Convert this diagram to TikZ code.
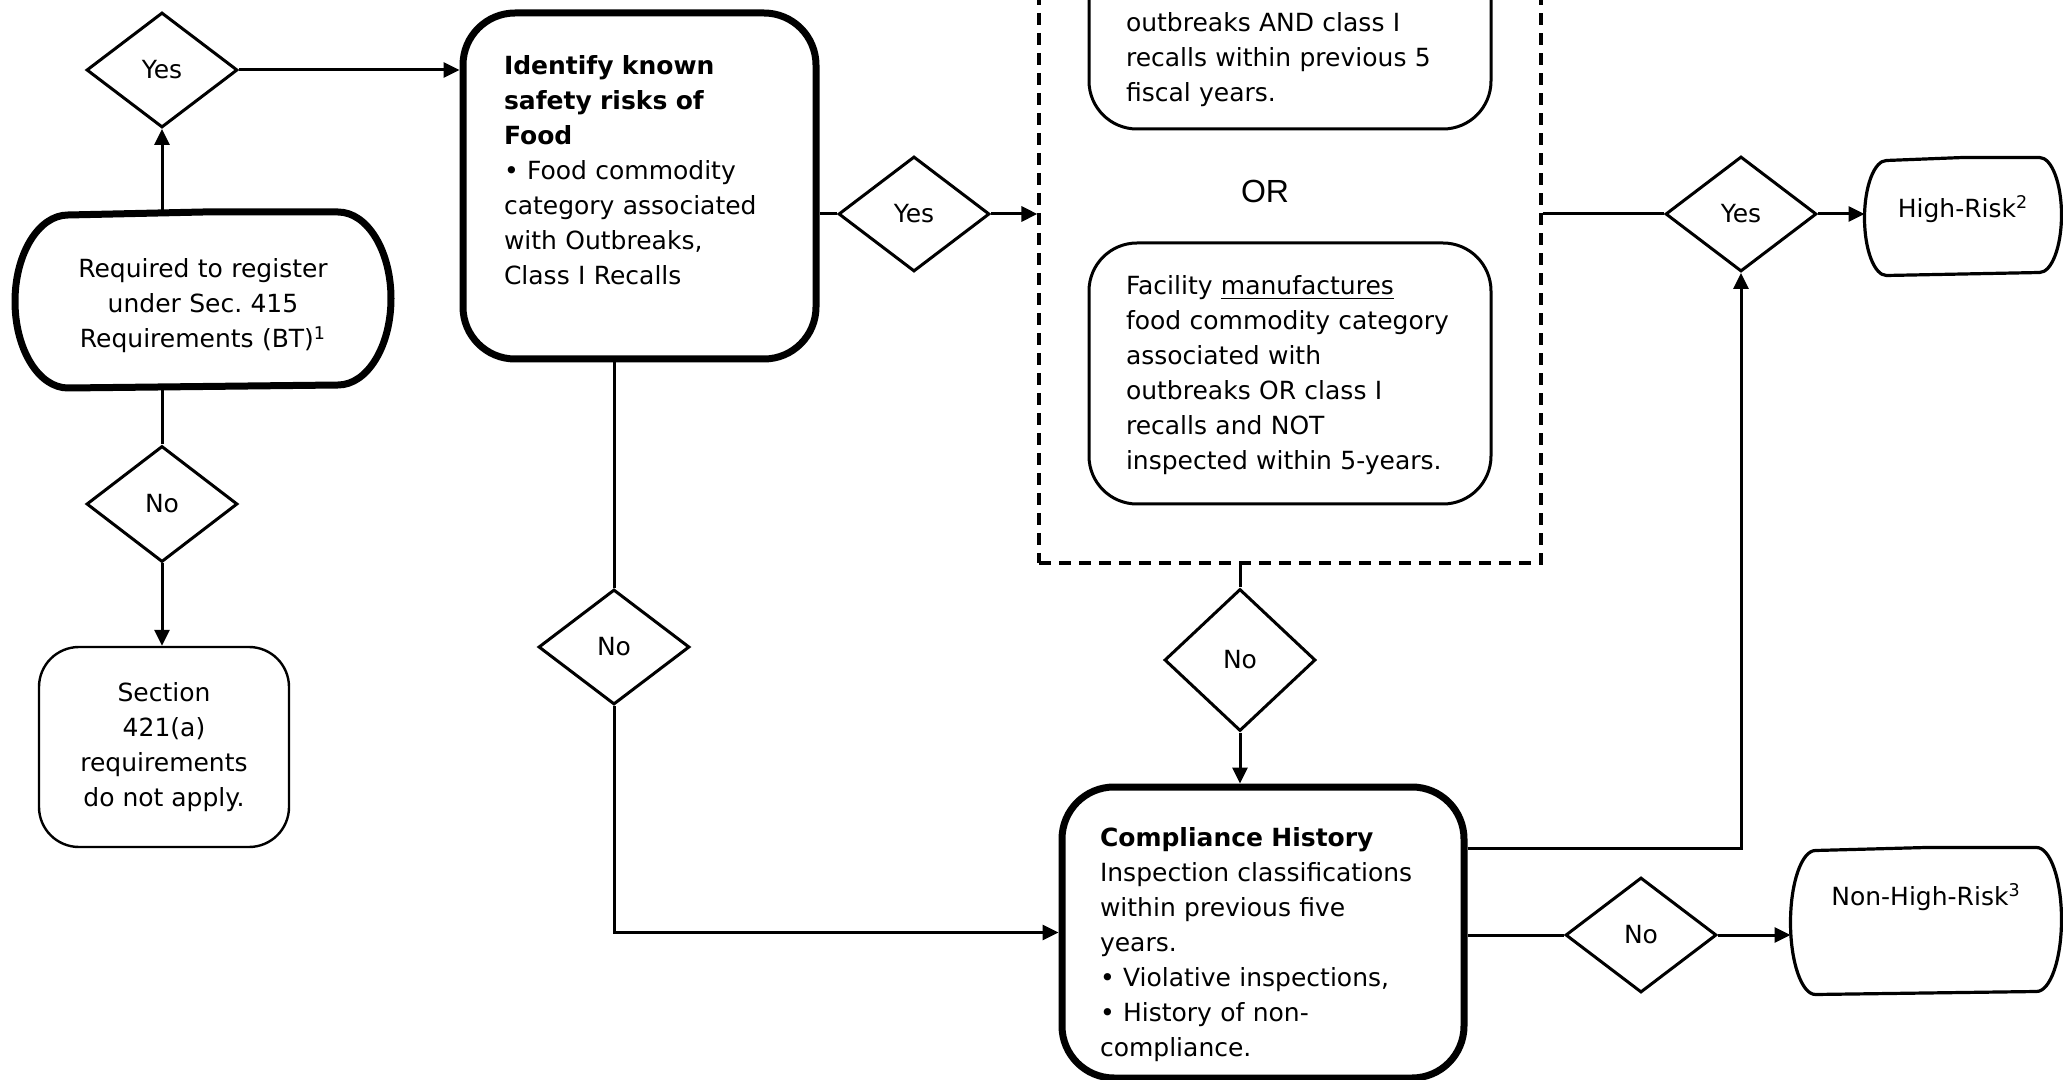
\documentclass[tikz,border=0pt]{standalone}
\usepackage{fontspec}
\setmainfont{DejaVu Sans}
\newfontfamily\orfont{Liberation Sans}
\usepackage{tikz}
\usetikzlibrary{arrows.meta,positioning,shapes.geometric}

\begin{document}
\begin{tikzpicture}
  [x=0.5pt,y=-0.5pt,
   font=\fontsize{12.5}{17.5}\selectfont,
   >={Triangle[length=8pt,width=7.5pt]},
   line width=1.5pt,
   decision/.style={diamond,draw,line width=1.5pt,inner sep=0pt,minimum width=75.5pt,minimum height=57.5pt},
   process/.style={rectangle,draw,line width=3.5pt,rounded corners=26pt,align=left,inner ysep=0pt},
   criterion/.style={rectangle,draw,line width=1.5pt,rounded corners=24pt,align=left,inner xsep=18.5pt,inner ysep=0pt,text width=164pt},
   terminal/.style={rectangle,inner ysep=0pt},
   outline/.style={line width=1.6pt,line join=round},
   group/.style={rectangle,draw,line width=1.6pt,dash pattern=on 6pt off 4pt,minimum width=251pt,minimum height=291.5pt}]
  \useasboundingbox (0,0) rectangle (2063,1080);
  \clip (0,0) rectangle (2063,1080);
  % registration
  \node[terminal,align=center,text width=131pt,minimum width=186.5pt,text height=32.25pt,text depth=54.25pt] (required) at (203,300)
    {Required to register\\under Sec.\ 415\\Requirements (BT)\textsuperscript{1}};
  \draw[outline,line width=3.5pt] (required.north) -- ([xshift=-26.5pt]required.north east)
    arc[start angle=90,end angle=-90,x radius=26.5pt,y radius=43.25pt] -- ([xshift=26.5pt]required.south west)
    arc[start angle=270,end angle=90,x radius=26.5pt,y radius=43.25pt] -- cycle;
  \node[decision] (yes_reg) at (162,70) {Yes};
  \node[decision,minimum height=58pt] (no_reg) at (162,504) {No};
  \node[rectangle,draw,line width=1.2pt,rounded corners=20pt,align=center,minimum width=125pt,minimum height=100pt] (section) at (164,747) {Section\\421(a)\\requirements\\do not apply.};
  % known risks
  \node[process,inner xsep=20.5pt,text width=135.5pt,text height=31pt,text depth=142pt] (identify) at (639.5,186)
    {\textbf{Identify known}\\\textbf{safety risks of}\\\textbf{Food}\\• Food commodity\\category associated\\with Outbreaks,\\Class I Recalls};
  \node[decision] (yes_risk) at (914,214) {Yes};
  \node[decision] (no_risk) at (614,647) {No};
  % criteria
  \node[group] (criteria) at (1290,271.5) {};
  \node[criterion,text height=80pt,text depth=48.5pt] (crit1) at (1290,0.5) {outbreaks AND class I\\recalls within previous 5\\fiscal years.};
  \node (orlabel) at (1265,191) {\orfont\fontsize{16}{19}\selectfont OR};
  \node[criterion,text height=26pt,text depth=104.5pt] (crit2) at (1290,373.5)
    {Facility \underline{manufactures}\\food commodity category\\associated with\\outbreaks OR class I\\recalls and NOT\\inspected within 5-years.};
  \node[decision] (yes_high) at (1741,214) {Yes};
  \node[terminal,minimum width=97pt,minimum height=57.5pt,text height=9.5pt,text depth=8.5pt] (highrisk) at (1963,216.5) {High-Risk\textsuperscript{2}};
  \draw[outline] (highrisk.north) -- ([xshift=-11pt]highrisk.north east)
    arc[start angle=90,end angle=-90,x radius=11pt,y radius=28.75pt] -- ([xshift=11pt]highrisk.south west)
    arc[start angle=270,end angle=90,x radius=11pt,y radius=28.75pt] -- cycle;
  \node[decision,minimum height=71pt] (no_hist) at (1240,660) {No};
  % compliance
  \node[process,inner xsep=19pt,text width=163pt,text height=29.5pt,text depth=116pt] (compliance) at (1263,932.5)
    {\textbf{Compliance History}\\Inspection classifications\\within previous five\\years.\\• Violative inspections,\\• History of non-\\compliance.};
  \node[decision] (no_comp) at (1641,935) {No};
  \node[terminal,minimum width=134pt,minimum height=72pt,text height=9.5pt,text depth=25.5pt] (nonhigh) at (1926,921) {Non-High-Risk\textsuperscript{3}};
  \draw[outline] (nonhigh.north) -- ([xshift=-12.5pt]nonhigh.north east)
    arc[start angle=90,end angle=-90,x radius=12.5pt,y radius=36pt] -- ([xshift=12.5pt]nonhigh.south west)
    arc[start angle=270,end angle=90,x radius=12.5pt,y radius=36pt] -- cycle;
  % connectors
  \draw [->] (required.north -| yes_reg.south) -- (yes_reg.south);
  \draw [->] (yes_reg.east) -- (yes_reg.east -| identify.west);
  \draw (required.south -| no_reg.north) -- (no_reg.north);
  \draw [->] (no_reg.south) -- (no_reg.south |- section.north);
  \draw (identify.east |- yes_risk.west) -- (yes_risk.west);
  \draw [->] (yes_risk.east) -- (yes_risk.east -| criteria.west);
  \draw (identify.south -| no_risk.north) -- (no_risk.north);
  \draw [->] (no_risk.south) |- (compliance.west);
  \draw (criteria.east |- yes_high.west) -- (yes_high.west);
  \draw [->] (yes_high.east) -- (yes_high.east -| highrisk.west);
  \draw (criteria.south -| no_hist.north) -- (no_hist.north);
  \draw [->] (no_hist.south) -- (no_hist.south |- compliance.north);
  \draw [->] ([yshift=42pt]compliance.east) -| (yes_high.south);
  \draw (compliance.east |- no_comp.west) -- (no_comp.west);
  \draw [->] (no_comp.east) -- (no_comp.east -| nonhigh.west);
\end{tikzpicture}
\end{document}
